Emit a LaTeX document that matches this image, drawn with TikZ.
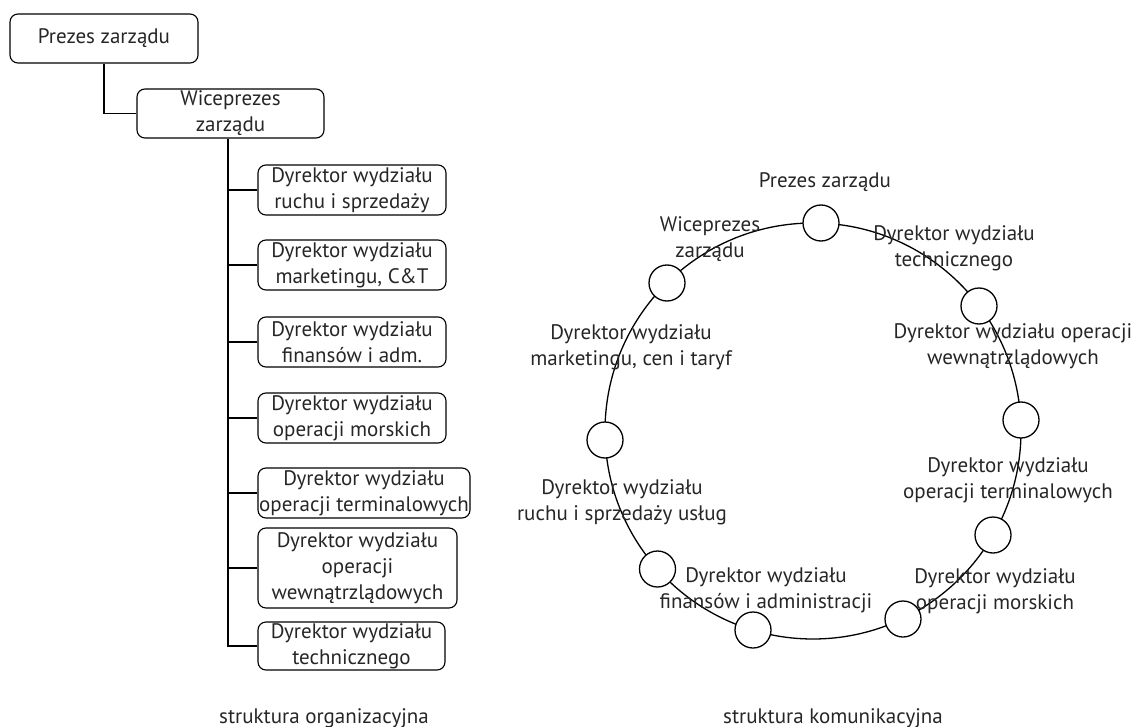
\documentclass[tikz,border=0pt]{standalone}
\usepackage{fontspec}
\setmainfont{PT Sans}
\begin{document}
\begin{tikzpicture}[x=1pt,y=-1pt,
  every node/.style={font=\fontsize{21}{26}\selectfont, text=black!85},
  box/.style={draw, line width=1.1pt, rounded corners=8pt, align=center, inner sep=0pt, minimum height=50pt},
  conn/.style={line width=1.3pt},
  dot/.style={draw, line width=1.3pt, circle, fill=white, minimum size=36pt, inner sep=0pt},
  lbl/.style={align=center, inner sep=0pt}]
\useasboundingbox (0,0) rectangle (1131,727);
% left: organisational structure
\node[box, minimum width=188pt, minimum height=49pt] (P) at (104,38.5) {Prezes zarządu};
\node[box, minimum width=187pt, minimum height=49pt] (W) at (230.5,113.5) {Wiceprezes\\zarządu};
\node[box, minimum width=188pt] (B1) at (352,190) {Dyrektor wydziału\\ruchu i sprzedaży};
\node[box, minimum width=188pt] (B2) at (352,265) {Dyrektor wydziału\\marketingu, C\&T};
\node[box, minimum width=188pt] (B3) at (352,342) {Dyrektor wydziału\\finansów i adm.};
\node[box, minimum width=188pt] (B4) at (352,418) {Dyrektor wydziału\\operacji morskich};
\node[box, minimum width=212pt] (B5) at (364,493) {Dyrektor wydziału\\operacji terminalowych};
\node[box, minimum width=199pt, minimum height=80pt] (B6) at (357.5,568) {Dyrektor wydziału\\operacji\\wewnątrzlądowych};
\node[box, minimum width=187pt, minimum height=48pt] (B7) at (351.5,646) {Dyrektor wydziału\\technicznego};
\coordinate (trunk) at (228,0);
\draw[conn] (P.south) |- (W.west);
\draw[conn] (W.south -| trunk) |- (B7.west);
\foreach \b in {B1,B2,B3,B4,B5,B6}{\draw[conn] (\b.west) -- (\b.west -| trunk);}
\node[lbl] (L1) at (324,718) {struktura organizacyjna};
% right: communication structure
\coordinate (C) at (813,431);
\draw[conn] (C) circle[radius=208pt];
\node[dot] (c1) at (821,223) {};
\node[dot] (c2) at (667,283) {};
\node[dot] (c3) at (979,306) {};
\node[dot] (c4) at (1021,420) {};
\node[dot] (c5) at (993,535) {};
\node[dot] (c6) at (903,619) {};
\node[dot] (c7) at (753,630) {};
\node[dot] (c8) at (657.5,569) {};
\node[dot] (c9) at (605,440) {};
\node[lbl] (t1) at (825,182) {Prezes zarządu};
\node[lbl] (t2) at (710,239) {Wiceprezes\\zarządu};
\node[lbl] (t3) at (954,248) {Dyrektor wydziału\\technicznego};
\node[lbl] (t4) at (1013,346) {Dyrektor wydziału operacji\\wewnątrzlądowych};
\node[lbl] (t5) at (1008,480) {Dyrektor wydziału\\operacji terminalowych};
\node[lbl] (t6) at (995,591) {Dyrektor wydziału\\operacji morskich};
\node[lbl] (t7) at (766,590) {Dyrektor wydziału\\finansów i administracji};
\node[lbl] (t8) at (622,502) {Dyrektor wydziału\\ruchu i sprzedaży usług};
\node[lbl] (t9) at (631,347) {Dyrektor wydziału\\marketingu, cen i taryf};
\node[lbl] (L2) at (833,718) {struktura komunikacyjna};
\end{tikzpicture}
\end{document}
